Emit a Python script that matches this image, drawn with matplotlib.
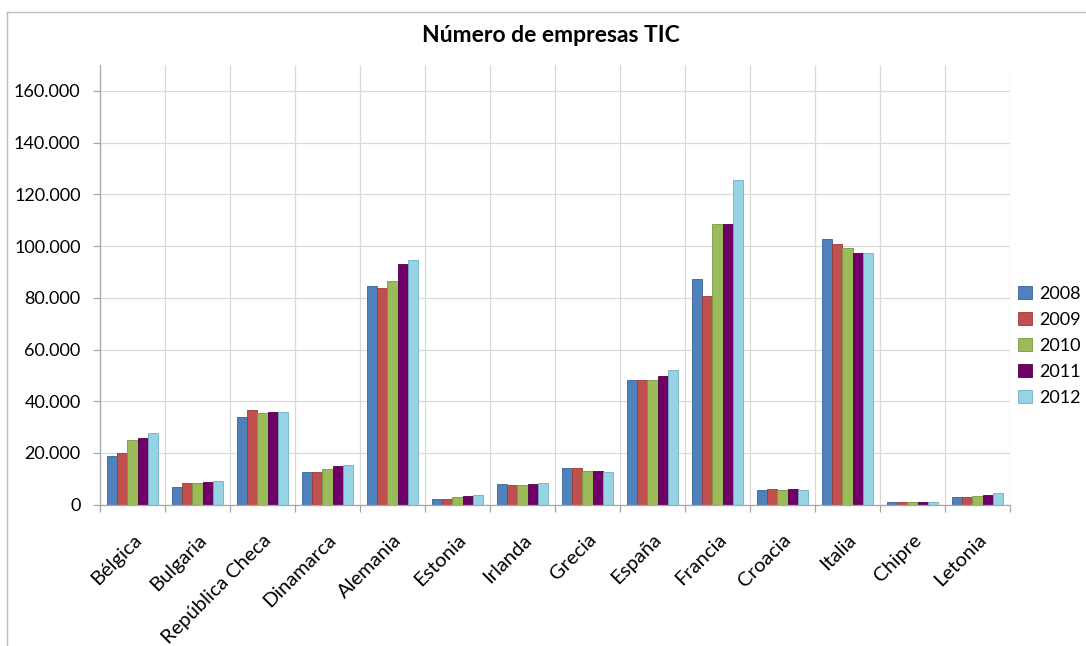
import numpy as np
import matplotlib
matplotlib.use('Agg')
import matplotlib.pyplot as plt
from matplotlib.ticker import FuncFormatter
from matplotlib.lines import Line2D

plt.rcParams['font.family'] = ['Lato', 'DejaVu Sans']

# datos
paises = ['Bélgica', 'Bulgaria', 'República Checa', 'Dinamarca', 'Alemania',
          'Estonia', 'Irlanda', 'Grecia', 'España', 'Francia', 'Croacia',
          'Italia', 'Chipre', 'Letonia']
anios = ['2008', '2009', '2010', '2011', '2012']
v2008 = [18800, 6700, 34000, 12500, 84400, 2200, 8000, 14200, 48400, 87300, 5700, 102800, 900, 2800]
v2009 = [19800, 8200, 36500, 12500, 83900, 2200, 7500, 14000, 48400, 80500, 6100, 100700, 900, 2800]
v2010 = [24900, 8200, 35400, 13700, 86300, 2800, 7500, 12900, 48400, 108700, 5800, 99200, 900, 3300]
v2011 = [25900, 8900, 35800, 14800, 93000, 3300, 8000, 12900, 49700, 108700, 5900, 97500, 1000, 3700]
v2012 = [27600, 9300, 35800, 15200, 94700, 3700, 8200, 12500, 52200, 125700, 5800, 97400, 900, 4600]
series = [v2008, v2009, v2010, v2011, v2012]

colores = ['#4F81BD', '#C0504D', '#9BBB59', '#6E0068', '#96D3E4']
bordes = ['#3A6496', '#9A3B38', '#7A9645', '#4E004A', '#6FAFC2']

fig = plt.figure(figsize=(10.86, 6.46), dpi=100)
W, H = 1086, 646
ax = fig.add_axes([100 / W, 141.3 / H, 910 / W, 439.7 / H])

x = np.arange(len(paises))
w = 0.156
for i, vals in enumerate(series):
    ax.bar(x + (i - 2) * w, vals, width=w, color=colores[i], edgecolor=bordes[i],
           linewidth=0.6, label=anios[i], zorder=3)

ax.set_xlim(-0.5, len(paises) - 0.5)
ax.set_ylim(0, 170000)
ax.set_yticks(np.arange(0, 160001, 20000))
ax.yaxis.set_major_formatter(FuncFormatter(lambda v, p: '{:,.0f}'.format(v).replace(',', '.')))

# rejilla horizontal y vertical (entre categorías)
ax.grid(axis='y', color='#D9D9D9', linewidth=0.9, zorder=0)
ax.set_xticks(x)
ax.set_xticks(np.arange(-0.5, len(paises), 1), minor=True)
ax.grid(axis='x', which='minor', color='#D9D9D9', linewidth=0.9, zorder=0)
ax.set_xticklabels(paises, rotation=45, ha='right', va='top', rotation_mode='anchor')

ax.tick_params(axis='x', which='major', length=0, pad=19, labelsize=14.5)
ax.tick_params(axis='x', which='minor', length=5, color='#A6A6A6', width=0.9)
ax.tick_params(axis='y', length=5, color='#A6A6A6', width=0.9, pad=9, labelsize=13)

for s in ['top', 'right']:
    ax.spines[s].set_visible(False)
for s in ['left', 'bottom']:
    ax.spines[s].set_color('#A6A6A6')
    ax.spines[s].set_linewidth(0.9)
    ax.spines[s].set_zorder(4)

fig.text(551 / W, 1 - 35 / H, 'Número de empresas TIC', ha='center', va='center',
         fontsize=16.5, fontweight='bold')

ax.legend(loc='center left', bbox_to_anchor=(1018 / W, 1 - 346 / H),
          bbox_transform=fig.transFigure, frameon=False, fontsize=13,
          handlelength=0.75, handleheight=0.75, handletextpad=0.45,
          labelspacing=0.55, borderpad=0, borderaxespad=0)

# borde del área del gráfico
fig.add_artist(Line2D([7 / W, 7 / W], [0, 1 - 12 / H], color='#BFBFBF', linewidth=1))
fig.add_artist(Line2D([7 / W, 1], [1 - 12 / H, 1 - 12 / H], color='#BFBFBF', linewidth=1))

fig.savefig('out.png', dpi=100)
